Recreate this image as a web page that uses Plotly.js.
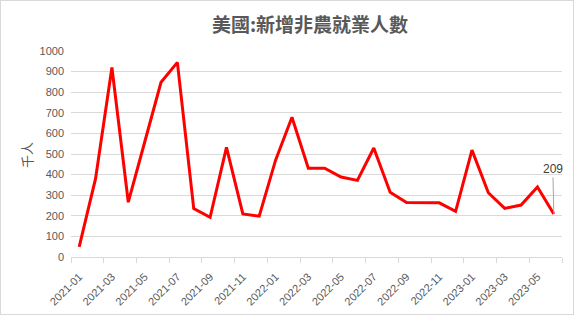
<!DOCTYPE html>
<html>
<head>
<meta charset="utf-8">
<script src="https://cdn.plot.ly/plotly-3.0.1.min.js"></script>
<style>
  html, body { margin: 0; padding: 0; background: #fff; }
  #wrap { position: relative; width: 576px; height: 316px; }
  #chart { width: 576px; height: 316px; }
  #frame { position: absolute; left: 0; top: 0; width: 572px; height: 313px; border: 1px solid #d9d9d9; pointer-events: none; }
</style>
</head>
<body>
<div id="wrap">
  <div id="chart"></div>
  <div id="frame"></div>
</div>
<script>
const months = [
  "2021-01","2021-02","2021-03","2021-04","2021-05","2021-06","2021-07","2021-08","2021-09","2021-10","2021-11","2021-12",
  "2022-01","2022-02","2022-03","2022-04","2022-05","2022-06","2022-07","2022-08","2022-09","2022-10","2022-11","2022-12",
  "2023-01","2023-02","2023-03","2023-04","2023-05","2023-06"
];
const payrolls = [
  49, 380, 920, 266, 557, 848, 945, 235, 193, 532, 209, 198,
  470, 678, 431, 431, 388, 372, 529, 314, 265, 264, 263, 222,
  519, 312, 236, 252, 340, 209
];
const lastLabel = "209";

const trace = {
  x: months,
  y: payrolls,
  type: "scatter",
  mode: "lines",
  line: { color: "#ff0000", width: 3 },
  hoverinfo: "x+y"
};

const layout = {
  width: 576,
  height: 316,
  margin: { l: 71, r: 14, t: 51, b: 59 },
  paper_bgcolor: "#ffffff",
  plot_bgcolor: "#ffffff",
  showlegend: false,
  title: {
    text: "美國:新增非農就業人數",
    font: { family: "Noto Sans CJK TC, Noto Sans CJK SC, sans-serif", size: 19, color: "#595959", weight: "bold" },
    xref: "container", yref: "container",
    x: 310 / 576, xanchor: "center",
    y: 1 - 25 / 316, yanchor: "middle"
  },
  xaxis: {
    type: "category",
    categoryorder: "array",
    categoryarray: months,
    range: [-0.5, months.length - 0.5],
    tickmode: "linear",
    tick0: 0,
    dtick: 2,
    tickson: "boundaries",
    ticks: "outside",
    ticklen: 5,
    tickcolor: "#d9d9d9",
    tickangle: -45,
    ticklabelstandoff: 8,
    tickfont: { family: "Liberation Sans, Arial, sans-serif", size: 11, color: "#595959" },
    showline: true,
    linecolor: "#d9d9d9",
    linewidth: 1,
    showgrid: false,
    zeroline: false,
    fixedrange: true
  },
  yaxis: {
    range: [0, 1000],
    tickmode: "linear",
    tick0: 0,
    dtick: 100,
    ticks: "",
    ticklabelstandoff: 6,
    tickfont: { family: "Liberation Sans, Arial, sans-serif", size: 11, color: "#595959" },
    showgrid: true,
    gridcolor: "#d9d9d9",
    gridwidth: 1,
    showline: false,
    zeroline: false,
    fixedrange: true
  },
  annotations: [
    {
      xref: "paper", yref: "paper",
      x: (26 - 71) / 491, y: (257 - 155) / 206,
      xanchor: "center", yanchor: "middle",
      text: "千人", textangle: -90, showarrow: false,
      font: { family: "Noto Sans CJK SC, sans-serif", size: 13, color: "#595959" }
    },
    {
      x: months[months.length - 1],
      y: payrolls[payrolls.length - 1],
      xref: "x", yref: "y",
      text: lastLabel,
      showarrow: true,
      arrowhead: 0,
      arrowwidth: 1,
      arrowcolor: "#a6a6a6",
      standoff: 0,
      ax: -1,
      ay: -45,
      font: { family: "Liberation Sans, Arial, sans-serif", size: 12, color: "#404040" }
    }
  ]
};

Plotly.newPlot("chart", [trace], layout, { displayModeBar: false, staticPlot: true });
</script>
</body>
</html>
